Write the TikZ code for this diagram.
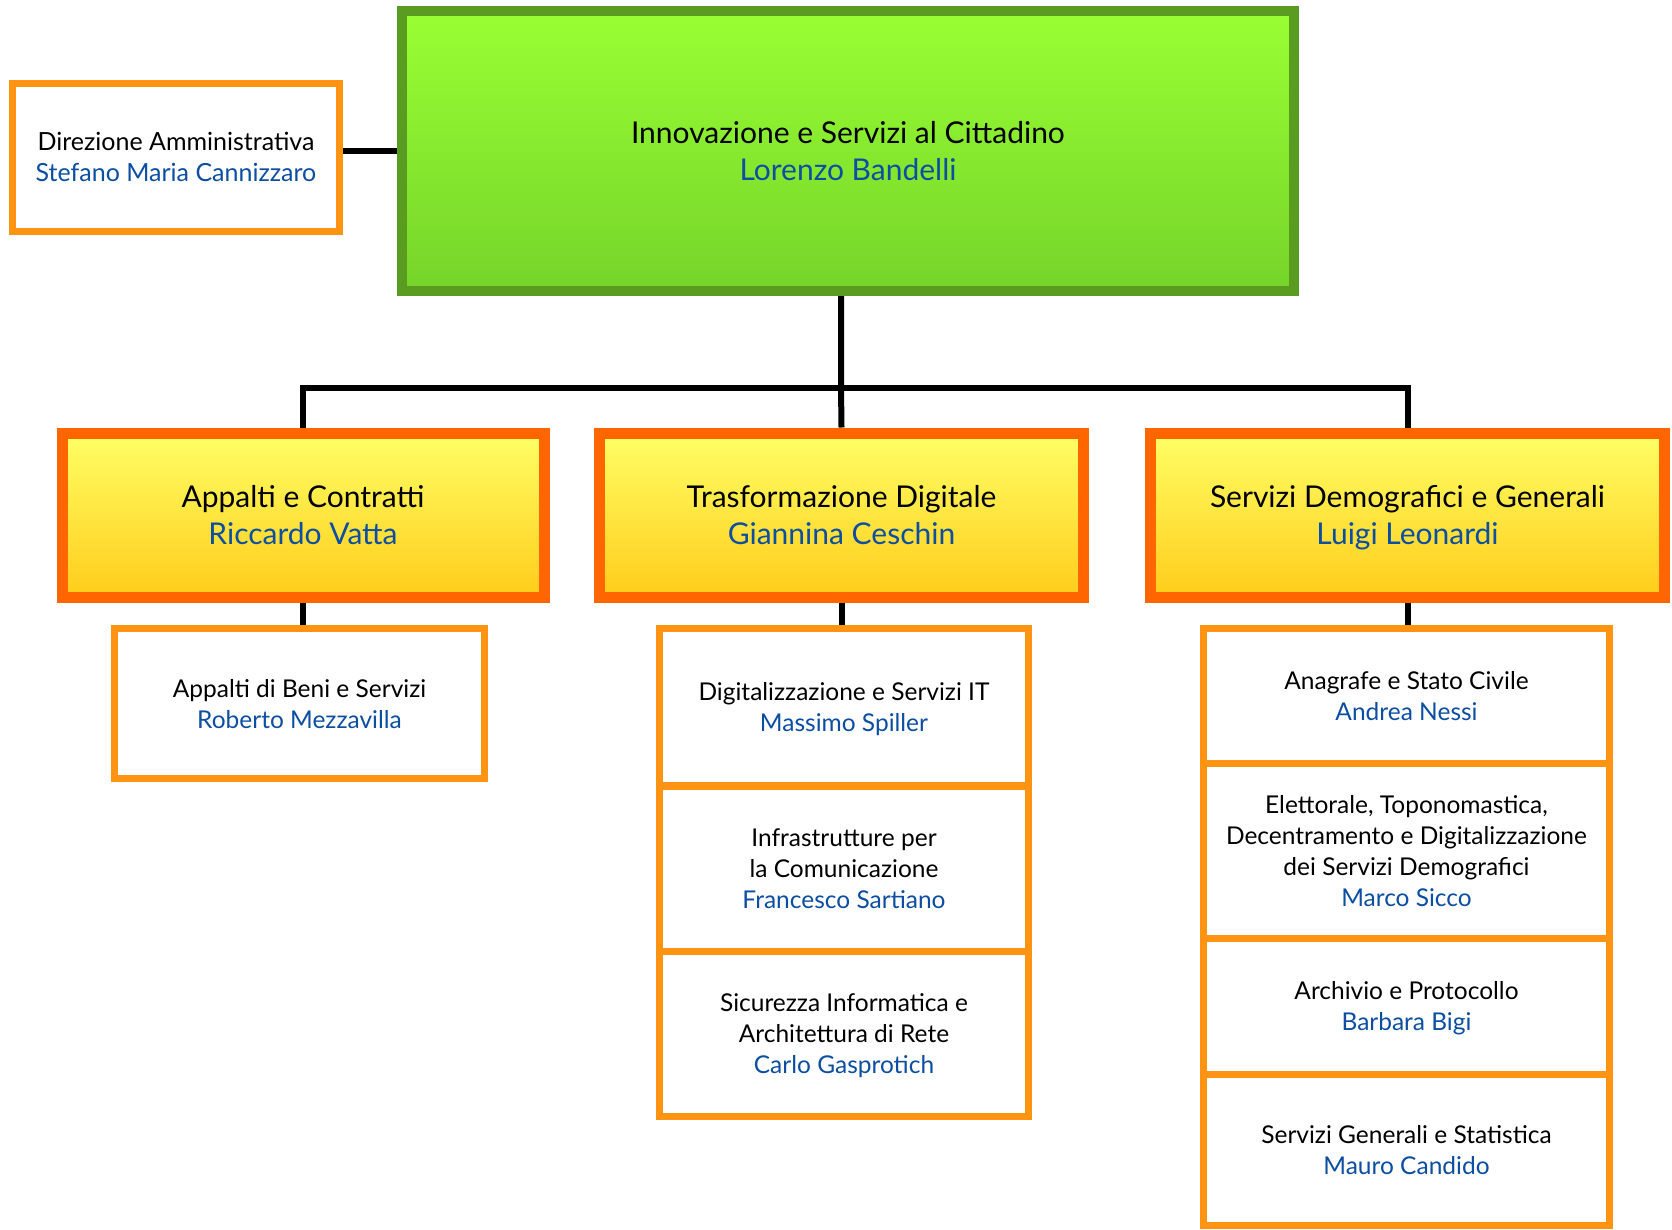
\documentclass[tikz,border=0pt]{standalone}
\usepackage{fontspec}
\setmainfont{Lato}
\usepackage{tikz}

\definecolor{headline}{HTML}{5A9C1F}
\definecolor{headtop}{HTML}{99FF33}
\definecolor{headbottom}{HTML}{76D42A}
\definecolor{arealine}{HTML}{FF6600}
\definecolor{areatop}{HTML}{FFFF66}
\definecolor{areabottom}{HTML}{FFCC1A}
\definecolor{unitline}{HTML}{FF9412}
\definecolor{nameblue}{HTML}{0B4EA2}

\newcommand{\who}[1]{\textcolor{nameblue}{\raisebox{0pt}[\height][0pt]{#1}}}

\begin{document}
\begin{tikzpicture}[x=1pt, y=-1pt,
    head/.style={rectangle, draw=headline, line width=10pt, top color=headtop, bottom color=headbottom, inner sep=0, align=center, font=\fontsize{30}{37}\selectfont},
    area/.style={rectangle, draw=arealine, line width=11pt, top color=areatop, bottom color=areabottom, inner sep=0, align=center, font=\fontsize{30}{37}\selectfont},
    unit/.style={rectangle, draw=unitline, line width=7pt, fill=white, inner sep=0, align=center, font=\fontsize{24.5}{31}\selectfont},
    link/.style={line width=6pt, draw=black}]
        \useasboundingbox (0,0) rectangle (1672,1229);

        \node (top) [head, minimum width=892, minimum height=280] at (848, 151) {Innovazione e Servizi al Cittadino\\\who{Lorenzo Bandelli}};
        \node (dir) [unit, minimum width=327, minimum height=148, font=\fontsize{25}{31}\selectfont] at (176, 157) {Direzione Amministrativa\\\who{Stefano Maria Cannizzaro}};

        \node (l0) [area, minimum width=482, minimum height=164] at (303, 515) {Appalti e Contratti\\\who{Riccardo Vatta}};
        \node (l1) [area, minimum width=484, minimum height=164] at (841.5, 515) {Trasformazione Digitale\\\who{Giannina Ceschin}};
        \node (l2) [area, minimum width=514, minimum height=164] at (1407.5, 515) {Servizi Demografici e Generali\\\who{Luigi Leonardi}};

        \node (c00) [unit, minimum width=370, minimum height=150] at (299.5, 703.5) {Appalti di Beni e Servizi\\\who{Roberto Mezzavilla}};

        \node (c10) [unit, minimum width=369, minimum height=157.5] at (844, 707) {Digitalizzazione e Servizi IT\\\who{Massimo Spiller}};
        \node (c11) [unit, minimum width=369, minimum height=165] at (844, 868.5) {Infrastrutture per\\la Comunicazione\\\who{Francesco Sartiano}};
        \node (c12) [unit, minimum width=369, minimum height=165.5] at (844, 1034) {Sicurezza Informatica e\\Architettura di Rete\\\who{Carlo Gasprotich}};

        \node (c20) [unit, minimum width=406, minimum height=135] at (1406.5, 696) {Anagrafe e Stato Civile\\\who{Andrea Nessi}};
        \node (c21) [unit, minimum width=406, minimum height=174.5] at (1406.5, 850.75) {Elettorale, Toponomastica,\\Decentramento e Digitalizzazione\\dei Servizi Demografici\\\who{Marco Sicco}};
        \node (c22) [unit, minimum width=406, minimum height=136] at (1406.5, 1006) {Archivio e Protocollo\\\who{Barbara Bigi}};
        \node (c23) [unit, minimum width=406, minimum height=151.5] at (1406.5, 1149.75) {Servizi Generali e Statistica\\\who{Mauro Candido}};

        \coordinate (bus) at (841, 388);

        \draw[link] (dir.east |- top.west) -- (top.west);
        \draw[link] (bus |- top.south) -- (bus) -- (l1.north);
        \draw[link] (l0.north) |- (bus) -| (l2.north);

        \draw[link] (l0.south) -- (l0.south |- c00.north);
        \draw[link] (l1.south) -- (l1.south |- c10.north);
        \draw[link] (l2.south) -- (l2.south |- c20.north);
      \end{tikzpicture}
\end{document}
